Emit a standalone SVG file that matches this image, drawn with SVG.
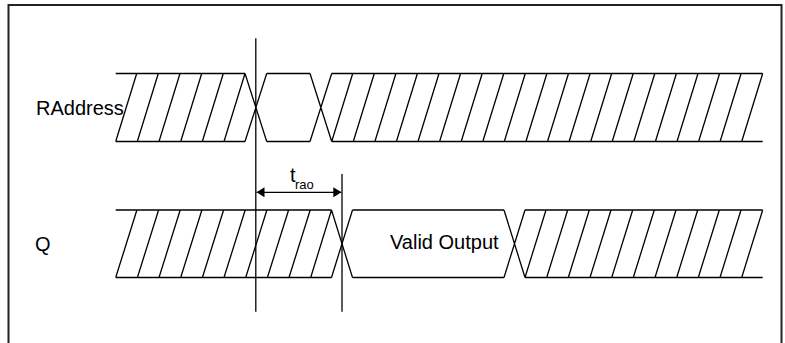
<svg xmlns="http://www.w3.org/2000/svg" width="785" height="343" viewBox="0 0 785 343">
<style>
.sig{fill:none;stroke:#000;stroke-width:1.3;stroke-linejoin:miter}
.lbl{font-family:"Liberation Sans",Arial,sans-serif;font-size:20px;fill:#000}
.sub{font-family:"Liberation Sans",Arial,sans-serif;font-size:13px;fill:#000}
.tl{stroke:#000;stroke-width:1.3;fill:none}
</style>
<defs>
<marker id="ah" markerWidth="8" markerHeight="10" refX="8" refY="5" orient="auto-start-reverse" markerUnits="userSpaceOnUse">
<path d="M0,0 L8,5 L0,10 Z" fill="#000"/>
</marker>
</defs>
<rect x="0" y="0" width="785" height="343" fill="#fff"/>
<rect id="frame" x="8.5" y="5" width="773" height="350" fill="none" stroke="#222" stroke-width="2"/>

<g id="raddress">
<text class="lbl" x="36" y="114.5">RAddress</text>
<path class="sig" d="M115.7,73.5H245 M115.7,141.5H245
M115.7,141.5L136.7,73.5 M137.3,141.5L158.3,73.5 M159,141.5L180,73.5 M180.7,141.5L201.7,73.5 M202.3,141.5L223.3,73.5 M224,141.5L245,73.5
M245,73.5L266.7,141.5 M245,141.5L266.7,73.5
M266.7,73.5H310 M266.7,141.5H310
M310,73.5L331.7,141.5 M310,141.5L331.7,73.5
M331.7,73.5H762.7 M331.7,141.5H762.7
M331.7,141.5L352.7,73.5 M353.3,141.5L374.3,73.5 M374.9,141.5L395.9,73.5 M396.4,141.5L417.4,73.5 M418,141.5L439,73.5 M439.6,141.5L460.6,73.5 M461.2,141.5L482.2,73.5 M482.8,141.5L503.8,73.5 M504.3,141.5L525.3,73.5 M525.9,141.5L546.9,73.5 M547.5,141.5L568.5,73.5 M569.1,141.5L590.1,73.5 M590.7,141.5L611.7,73.5 M612.2,141.5L633.2,73.5 M633.8,141.5L654.8,73.5 M655.4,141.5L676.4,73.5 M677,141.5L698,73.5 M698.6,141.5L719.6,73.5 M720.1,141.5L741.1,73.5 M741.7,141.5L762.7,73.5"/>
</g>

<g id="q">
<text class="lbl" x="35" y="250.5">Q</text>
<path class="sig" d="M115.7,210H331.5 M115.7,277.5H310.7
M115.7,277.5L136.9,210 M137.4,277.5L158.6,210 M159,277.5L180.2,210 M180.7,277.5L201.9,210 M202.4,277.5L223.6,210 M224,277.5L245.2,210 M245.7,277.5L266.9,210 M267.4,277.5L288.6,210 M289,277.5L310.2,210 M310.7,277.5L331.5,210
M310.7,277.5H331.5
M331.5,210L352.5,277.5 M331.5,277.5L352.5,210
M352.5,210H504 M352.5,277.5H504
M504,210L525,277.5 M504,277.5L525,210
M525,210H762.7 M525,277.5H762.7
M525,277.5L546,210 M546.7,277.5L567.7,210 M568.3,277.5L589.3,210 M590,277.5L611,210 M611.7,277.5L632.7,210 M633.3,277.5L654.3,210 M655,277.5L676,210 M676.7,277.5L697.7,210 M698.3,277.5L719.3,210 M720,277.5L741,210 M741.7,277.5L762.7,210"/>
<text class="lbl" x="390" y="248.5">Valid Output</text>
</g>

<g id="connectors">
<line class="tl" x1="255.8" y1="38.3" x2="255.8" y2="311.7"/>
<line class="tl" x1="342" y1="174" x2="342" y2="311.7"/>
<line class="tl" x1="256.5" y1="192.3" x2="341.3" y2="192.3" marker-start="url(#ah)" marker-end="url(#ah)"/>
<text class="lbl" x="290" y="181.5">t</text>
<text class="sub" x="295" y="189">rao</text>
</g>
</svg>
